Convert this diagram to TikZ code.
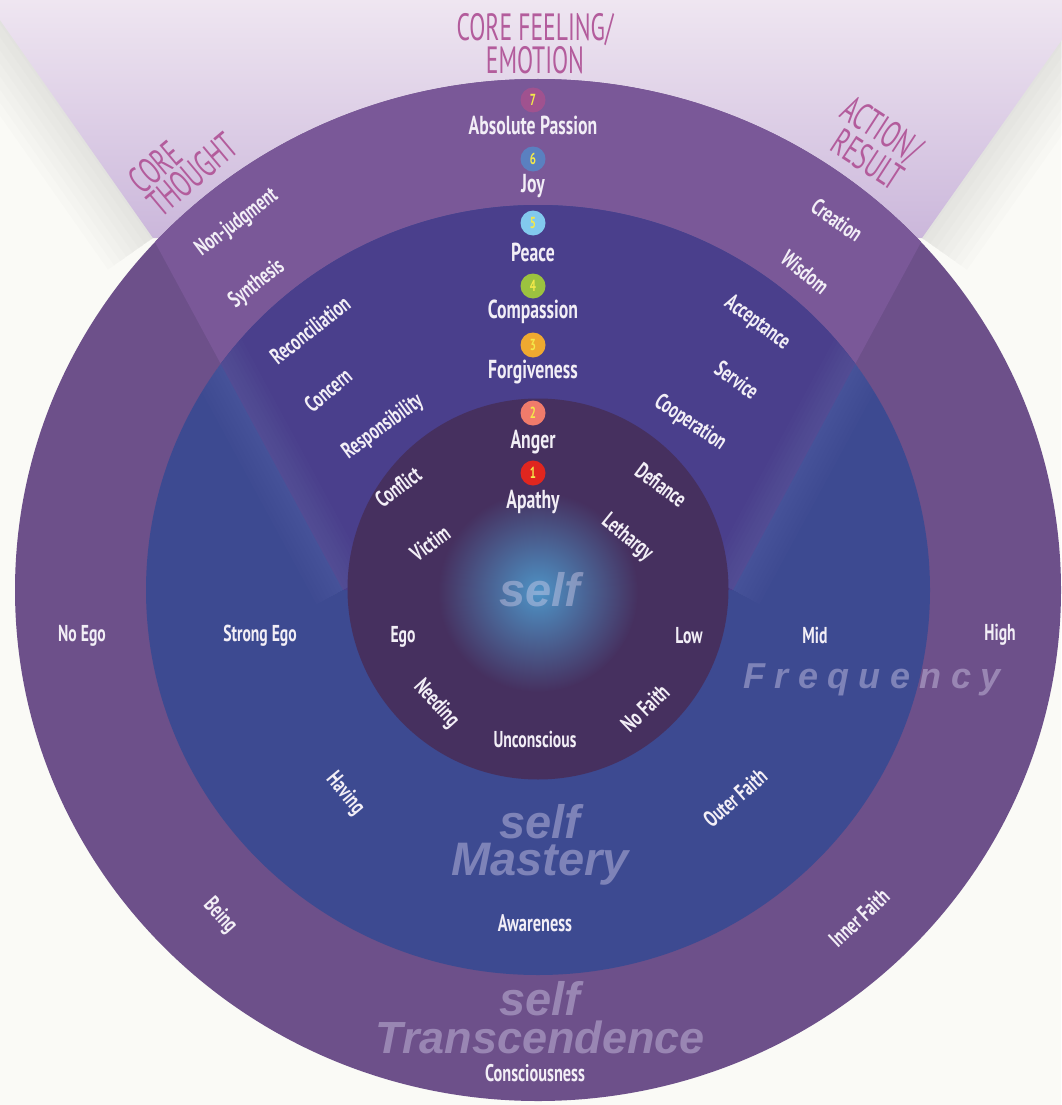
\documentclass[tikz,border=0pt]{standalone}
\usepackage{fontspec}
\usepackage{graphicx}
\newfontfamily\labfont{PT Sans}
\newfontfamily\bigfont{Liberation Sans}
\newfontfamily\freqfont{Liberation Sans}[LetterSpace=26]
\newcommand\cnd[1]{\scalebox{0.68}[1]{#1}} % condensed label text
\newcommand\hcnd[1]{\scalebox{0.62}[1]{#1}} % condensed heading text
\definecolor{bgwhite}{HTML}{FAFAF6}
\definecolor{lavtop}{HTML}{EFE6F1}
\definecolor{lavbot}{HTML}{CBB7DB}
\definecolor{ringout}{HTML}{6D508A}
\definecolor{ringoutb}{HTML}{7A5898}
\definecolor{ringmid}{HTML}{3D4A91}
\definecolor{ringmidb}{HTML}{4A3F8C}
\definecolor{haze}{HTML}{7E88C4}
\definecolor{disc}{HTML}{46305F}
\definecolor{glow}{HTML}{4E93C6}
\definecolor{labwhite}{HTML}{F2EEF6}
\definecolor{headpink}{HTML}{B35C9C}
\definecolor{numyellow}{HTML}{F4E94A}
\definecolor{bigtxt}{HTML}{D8D2EE}
\definecolor{bsev}{HTML}{A0528F}
\definecolor{bsix}{HTML}{5A80C0}
\definecolor{bfive}{HTML}{82C9EE}
\definecolor{bfour}{HTML}{9CC23F}
\definecolor{bthree}{HTML}{EFA930}
\definecolor{btwo}{HTML}{F07B6B}
\definecolor{bone}{HTML}{E0261F}
\begin{document}
\begin{tikzpicture}[x=1pt,y=1pt]
\tikzstyle{lab} = [text=labwhite, inner sep=0pt, font=\labfont\bfseries\fontsize{23}{25}\selectfont] %ring label
\tikzstyle{lev} = [lab, font=\labfont\bfseries\fontsize{26}{28}\selectfont] %level label
\tikzstyle{head} = [text=headpink, inner sep=0pt, font=\labfont\fontsize{38}{30}\selectfont] %beam heading
\tikzstyle{badge} = [circle, inner sep=0pt, minimum size=25pt, text=numyellow, font=\labfont\bfseries\fontsize{16}{16}\selectfont] %level number
\tikzstyle{big} = [text=bigtxt, text opacity=0.42, inner sep=0pt, font=\bigfont\bfseries\itshape\fontsize{47}{47}\selectfont] %ring title
\useasboundingbox (0,0) rectangle (1061,-1105);
\fill[bgwhite] (0,0) rectangle (1061,-1105);
% shadow beside the beam
\foreach \w in {110,95,...,5}{
  \draw[line width=\w pt, black!45, opacity=0.025] (-14,0) -- (153,-238);
  \draw[line width=\w pt, black!45, opacity=0.025] (1090,0) -- (922,-238);
}
% beam behind the rings
\shade[top color=lavtop, bottom color=lavbot] (-14,0) -- (1090,0) -- (922,-238) -- (153,-238) -- cycle;
% outer ring
\fill[ringout] (538,-590) ellipse [x radius=523, y radius=511];
\begin{scope}
\clip (538,-590) ellipse [x radius=523, y radius=511];
\fill[ringoutb] (24,0) -- (1052,0) -- (733,-590) -- (343,-590) -- cycle;
\end{scope}
% middle ring
\fill[ringmid] (538,-590) ellipse [x radius=392, y radius=385];
\begin{scope}
\clip (538,-590) ellipse [x radius=392, y radius=385];
\fill[ringmidb] (24,0) -- (1052,0) -- (733,-590) -- (343,-590) -- cycle;
\foreach \w in {60,52,...,4}{
  \draw[line width=\w pt, haze, opacity=0.03] (24,0) -- (343,-590);
  \draw[line width=\w pt, haze, opacity=0.03] (1052,0) -- (733,-590);
}
\end{scope}
% inner disc
\fill[disc] (538,-589) circle (190.5);
\shade[inner color=glow, outer color=disc] (538,-592) circle (100);

% headings
\node[head, align=center] (hfeel) at (535,-44) {\hcnd{CORE FEELING/}\\\hcnd{EMOTION}};
\node[head, align=left, rotate=40] (hthought) at (183,-163) {\hcnd{CORE}\\\hcnd{THOUGHT}};
\node[head, align=right, rotate=-33] (haction) at (873,-143) {\hcnd{ACTION/}\\\hcnd{RESULT}};

% levels
\foreach \n/\y/\c in {7/100/bsev,6/159/bsix,5/223/bfive,4/286/bfour,3/345/bthree,2/413/btwo,1/473/bone}
  \node[badge, fill=\c] (b\n) at (533,-\y) {\cnd{\n}};
\foreach \n/\y/\t in {7/125/Absolute Passion,6/186/Joy,5/252/Peace,4/312/Compassion,3/372/Forgiveness,2/442/Anger,1/502/Apathy}
  \node[lev] (e\n) at (533,-\y) {\cnd{\t}};

% ring labels
\foreach \nm/\x/\y/\r/\t in {nonj/237/223/37/Non-judgment, synt/257/284/38/Synthesis,
  reco/310/330/38/Reconciliation, conc/328/390/40/Concern, resp/383/427/36/Responsibility,
  conf/398/487/37/Conflict, vict/430/543/36/Victim,
  crea/837/220/-35/Creation, wisd/805/272/-39/Wisdom, acce/757/323/-36/Acceptance,
  serv/737/380/-36/Service, coop/690/423/-34/Cooperation, defi/661/485/-37/Defiance,
  leth/627/538/-39/Lethargy, need/436/704/-48/Needing, nofa/645/708/44/No Faith,
  havi/345/794/-50/Having, oufa/735/798/41/Outer Faith, bein/220/916/-48/Being,
  infa/859/918/43/Inner Faith, noeg/82/636/0/No Ego, steg/260/636/0/Strong Ego,
  ego/403/637/0/Ego, low/689/636/0/Low, mid/815/635/0/Mid, high/1000/635/0/High,
  unco/535/739/0/Unconscious}
  \node[lab, rotate=\r] (\nm) at (\x,-\y) {\cnd{\t}};
\node[lab, font=\labfont\bfseries\fontsize{24}{26}\selectfont] (awar) at (535,-923) {\cnd{Awareness}};
\node[lab, font=\labfont\bfseries\fontsize{24}{26}\selectfont] (cons) at (535,-1073) {\cnd{Consciousness}};

% ring titles
\node[big] (tself) at (540,-590) {self};
\node[big] (mself) at (540,-822) {self};
\node[big] (mast) at (540,-864) {Mastery};
\node[big] (sself) at (540,-999) {self};
\node[big, font=\bigfont\bfseries\itshape\fontsize{45}{45}\selectfont] (tran) at (540,-1037) {Transcendence};
\node[big, font=\freqfont\bfseries\itshape\fontsize{36}{36}\selectfont] (freq) at (872,-680) {Frequency};
\end{tikzpicture}
\end{document}
